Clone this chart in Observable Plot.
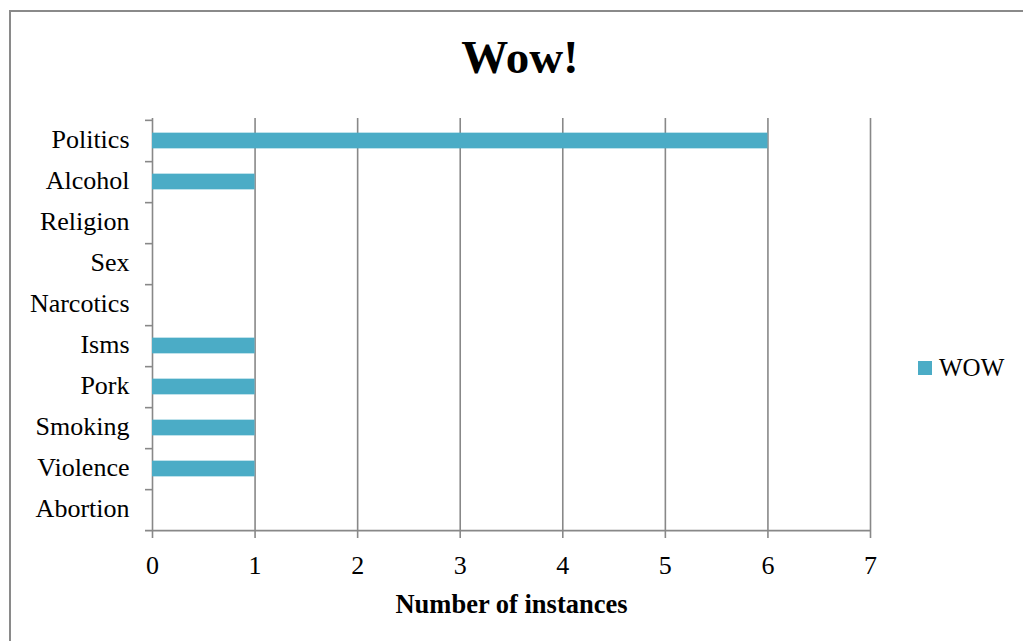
<!DOCTYPE html>
<html>
<head>
<meta charset="utf-8">
<script src="https://cdn.jsdelivr.net/npm/d3@7"></script>
<script src="https://cdn.jsdelivr.net/npm/@observablehq/plot@0.6"></script>
<style>
  html, body { margin: 0; padding: 0; background: #fff; overflow: hidden; }
  #wrap { position: relative; width: 1023px; height: 641px; overflow: hidden; font-family: "Liberation Serif", "Times New Roman", serif; }
  #border { position: absolute; left: 9px; top: 10px; width: 1100px; height: 700px; border-left: 2px solid #8a8a8a; border-top: 2px solid #8a8a8a; box-sizing: border-box; }
  #chart { position: absolute; left: 0; top: 0; }
  #title { position: absolute; left: 0; width: 1040px; top: 27px; text-align: center; font-weight: bold; font-size: 47px; line-height: 60px; color: #000; }
  #legend { position: absolute; left: 918px; top: 353px; font-size: 25px; line-height: 30px; color: #000; display: flex; align-items: center; }
  #legend .sw { width: 14px; height: 14px; background: #4bacc6; margin-right: 7px; }
</style>
</head>
<body>
<div id="wrap">
  <div id="border"></div>
  <div id="chart"></div>
  <div id="title">Wow!</div>
  <div id="legend"><span class="sw"></span><span>WOW</span></div>
</div>
<script>
const categories = ["Politics", "Alcohol", "Religion", "Sex", "Narcotics", "Isms", "Pork", "Smoking", "Violence", "Abortion"];
const wowValues = [6, 1, 0, 0, 0, 1, 1, 1, 1, 0];
const xTicks = [0, 1, 2, 3, 4, 5, 6, 7];
const seriesName = "WOW";
const xLabel = "Number of instances";

const data = categories.map((c, i) => ({category: c, value: wowValues[i], series: seriesName}));

const W = 1023, H = 641;
const mL = 152, mR = 153, mT = 118, mB = 110;
const step = (H - mT - mB) / categories.length;
const barH = 16;
const inset = (step - barH) / 2;
const gray = "#888888";
const sw = 1.6;

const chart = Plot.plot({
  width: W,
  height: H,
  marginLeft: mL,
  marginRight: mR,
  marginTop: mT,
  marginBottom: mB,
  style: {fontFamily: "'Liberation Serif', 'Times New Roman', serif", fontSize: "26px", color: "#000", background: "transparent"},
  x: {domain: [0, 7]},
  y: {domain: categories, padding: 0},
  marks: [
    Plot.ruleX(xTicks.slice(1), {stroke: gray, strokeWidth: sw}),
    Plot.ruleX([0], {stroke: gray, strokeWidth: sw}),
    Plot.barX(data, {y: "category", x: "value", fill: "#4bacc6", insetTop: inset, insetBottom: inset}),
    Plot.ruleY(categories.slice(0, -1), {y: d => d, x1: 0, x2: 0, insetLeft: -7, dy: step / 2, stroke: gray, strokeWidth: sw}),
    Plot.ruleY([categories[0]], {y: d => d, x1: 0, x2: 0, insetLeft: -7, dy: -step / 2, stroke: gray, strokeWidth: sw}),
    Plot.ruleY([categories[categories.length - 1]], {y: d => d, insetLeft: -7, dy: step / 2, stroke: gray, strokeWidth: sw}),
    Plot.axisY({tickSize: 0, tickPadding: 23, fontSize: 26, label: null, fill: "#000", dy: -1}),
    Plot.axisX({ticks: xTicks, tickFormat: d3.format("d"), tickSize: 7, tickPadding: 17, fontSize: 26, stroke: gray, strokeWidth: sw, fill: "#000", label: null}),
    Plot.text([xLabel], {frameAnchor: "bottom", dy: 81, text: d => d, fontWeight: "bold", fontSize: 26.5, fill: "#000"})
  ]
});
document.getElementById("chart").appendChild(chart);
</script>
</body>
</html>
